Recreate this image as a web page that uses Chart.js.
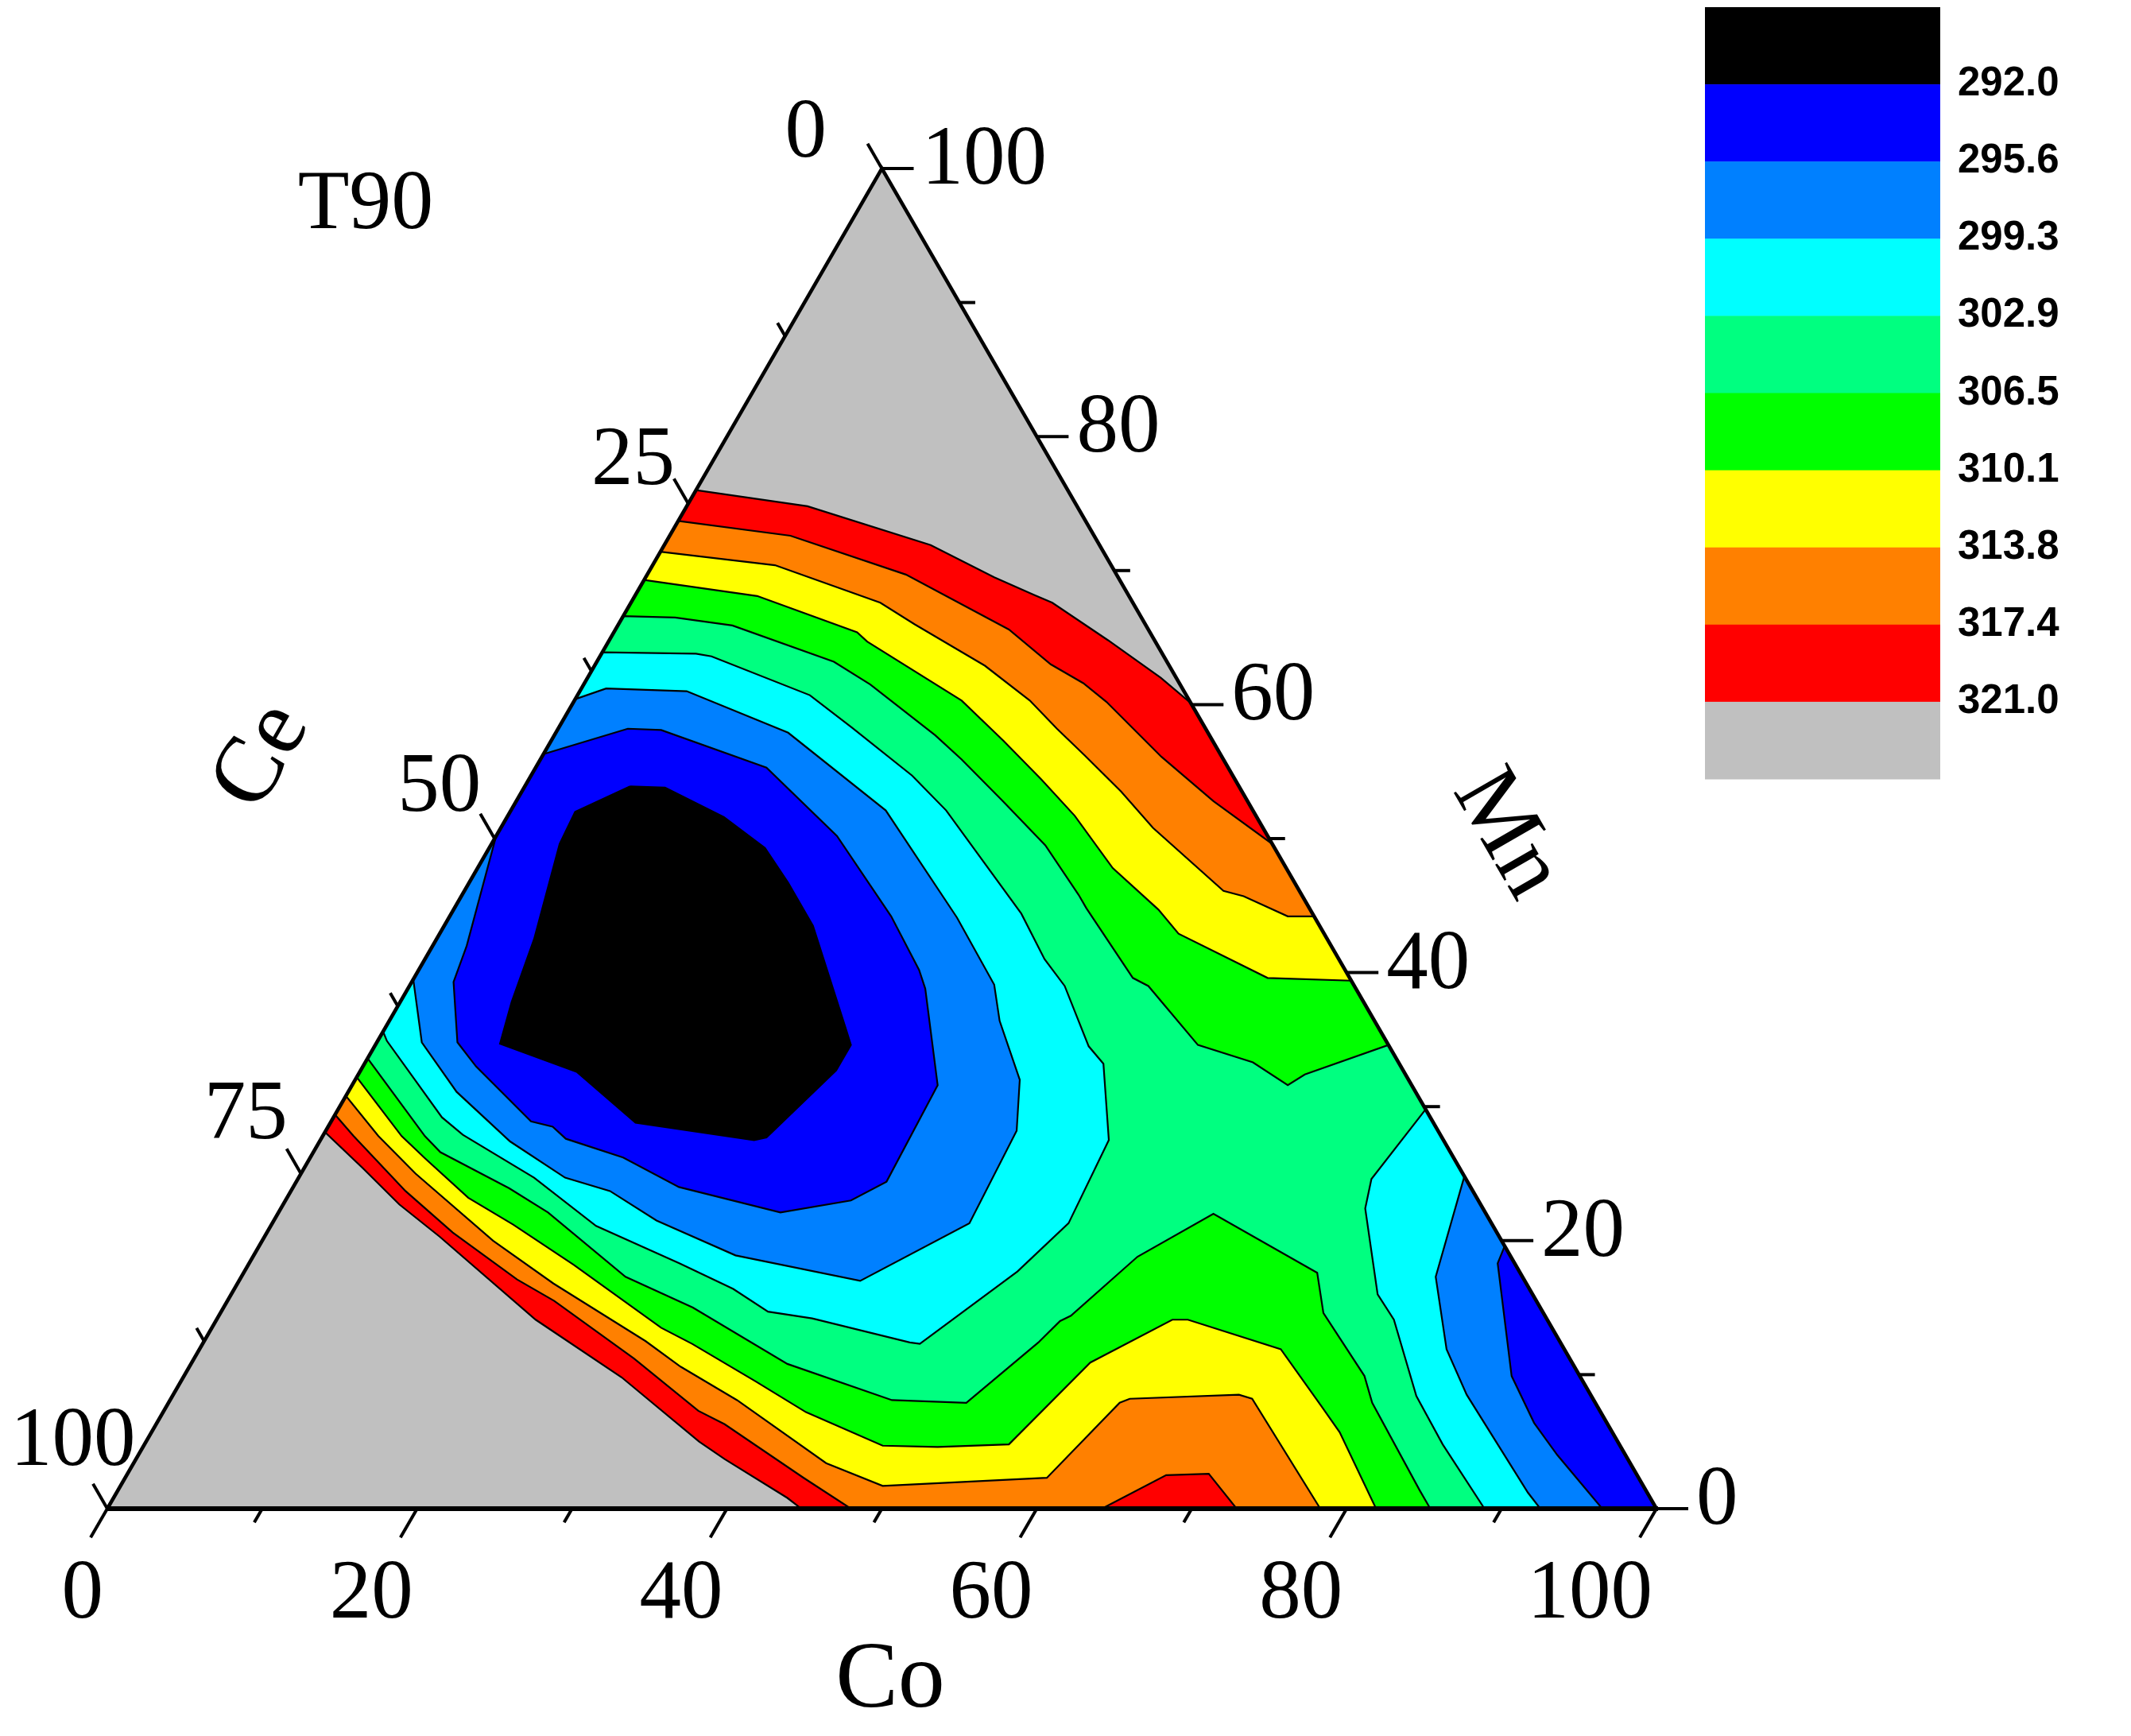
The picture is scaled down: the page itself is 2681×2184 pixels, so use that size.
<!DOCTYPE html>
<html>
<head>
<meta charset="utf-8">
<title>T90 ternary contour</title>
<script src="https://cdn.jsdelivr.net/npm/chart.js@4.4.1/dist/chart.umd.min.js"></script>
<style>
  html, body { margin: 0; padding: 0; background: #ffffff; }
  canvas { display: block; }
</style>
</head>
<body>
<canvas id="t90Chart" width="2681" height="2184"></canvas>
<script>
// colour scale of T90
const levels = [292.0, 295.6, 299.3, 302.9, 306.5, 310.1, 313.8, 317.4, 321.0];
const bandColors = ['#000000', '#0000ff', '#0080ff', '#00ffff', '#00ff80', '#00ff00', '#ffff00', '#ff8000', '#ff0000', '#c0c0c0'];

// axis ticks
const coTicks = [0, 20, 40, 60, 80, 100];
const mnTicks = [0, 20, 40, 60, 80, 100];
const ceTicks = [0, 25, 50, 75, 100];

// contour lines, every point is [Co, Mn] in %, Ce = 100 - Co - Mn
const c321Top = [[0, 76.0], [7.8, 74.8], [17.2, 71.9], [22.5, 69.5], [25.7, 68.2], [27.2, 67.6], [32.2, 64.8], [37.0, 62.0], [39.9, 60.1]];
const c321Low = [[0, 28.1], [3.8, 25.4], [7.5, 22.7], [11.3, 20.3], [20.6, 14.1], [28.3, 9.8], [35.7, 5.0], [38.0, 3.7], [43.5, 0.8], [44.8, 0]];

const c317Top = [[0, 73.7], [7.8, 72.6], [16.7, 69.7], [25.4, 65.6], [29.4, 63.0], [32.2, 61.6], [34.4, 60.2], [40.0, 56.1], [45.0, 52.8], [50.4, 49.6]];
const c317Low = [[0, 29.4], [2.0, 27.8], [7.4, 23.7], [12.0, 20.6], [17.9, 17.1], [21.1, 15.5], [28.4, 11.2], [34.5, 7.3], [36.7, 6.3], [43.8, 2.3], [48.0, 0]];
const c317Blob = [[64.2, 0], [67.1, 2.5], [69.8, 2.6], [72.9, 0]];

const c313Top = [[0, 71.4], [7.9, 70.4], [16.1, 67.6], [19.1, 66.0], [25.2, 62.9], [29.4, 60.3], [32.2, 58.2], [35.0, 56.2], [38.7, 53.5], [42.1, 50.8], [49.0, 46.1], [50.5, 45.7], [54.1, 44.2], [55.8, 44.2]];
const c313Low = [[0, 30.8], [3.6, 27.8], [7.4, 25.0], [14.9, 20.0], [20.4, 16.8], [28.5, 12.5], [31.7, 10.6], [36.6, 8.1], [44.7, 3.4], [49.2, 1.7], [59.5, 2.3], [61.4, 7.9], [61.9, 8.2], [68.8, 8.5], [69.8, 8.2], [78.3, 0]];

const c310Top = [[0, 69.3], [7.9, 68.1], [15.7, 65.4], [16.7, 64.7], [25.0, 60.3], [29.2, 57.3], [33.1, 54.4], [36.6, 51.7], [41.0, 47.8], [45.5, 44.7], [47.7, 42.9], [55.1, 39.6], [60.6, 39.4]];
const c310Low = [[0, 32.2], [5.1, 27.8], [7.5, 26.1], [11.7, 23.2], [15.6, 21.2], [21.0, 18.2], [29.0, 13.5], [31.6, 12.3], [37.1, 9.5], [41.5, 7.2], [47.7, 4.7], [51.3, 4.6], [55.8, 4.8], [58.0, 10.9], [61.7, 14.1], [62.7, 14.1], [69.8, 11.9], [74.6, 7.6], [76.7, 5.7], [81.9, 0]];

const c306Top = [[0, 66.6], [3.4, 66.5], [7.4, 65.9], [15.3, 63.2], [18.5, 61.5], [24.6, 57.7], [27.2, 55.9], [31.4, 52.8], [35.8, 49.5], [39.8, 45.8], [40.8, 44.8], [46.4, 39.6], [47.7, 39.0], [53.1, 34.6], [57.3, 33.3], [60.4, 31.6], [61.1, 32.4], [65.4, 34.6]];
const c306Low = [[0, 33.6], [6.6, 27.8], [8.2, 26.6], [14.0, 23.9], [17.4, 22.1], [24.8, 17.3], [30.3, 15.0], [38.5, 10.8], [46.6, 8.1], [51.5, 7.9], [53.9, 12.4], [54.5, 14.0], [55.0, 14.4], [57.1, 18.8], [60.4, 22.0], [69.3, 17.6], [71.2, 14.6], [76.2, 9.9], [77.7, 7.9], [84.0, 1.4], [85.4, 0]];

const c302Pocket = [[0, 63.9], [6.1, 63.8], [7.2, 63.6], [15.0, 60.7], [18.9, 58.3], [24.6, 54.7], [28.1, 52.1], [36.8, 44.4], [40.0, 41.0], [42.3, 39.0], [46.1, 34.5], [47.7, 33.2], [50.9, 27.5], [51.4, 21.3], [49.9, 17.7], [46.3, 12.3], [45.6, 12.4], [38.4, 14.2], [35.3, 14.7], [32.2, 16.4], [27.8, 18.3], [21.0, 21.1], [15.2, 24.7], [9.0, 27.9], [7.0, 29.2], [0.6, 34.9], [0, 35.6]];
const c302Corner = [[70.2, 29.8], [69.3, 24.6], [70.0, 22.4], [74.0, 16.0], [76.0, 14.1], [80.3, 8.4], [83.8, 4.8], [88.9, 0]];

const c299Pocket = [[0, 60.4], [1.6, 61.2], [6.9, 61.0], [15.0, 57.9], [24.2, 52.1], [32.8, 44.1], [37.7, 39.1], [39.4, 36.4], [42.9, 32.0], [44.6, 28.2], [45.0, 21.3], [40.1, 17.0], [31.1, 18.9], [24.7, 21.5], [20.6, 23.7], [17.2, 24.7], [12.3, 27.4], [7.0, 31.1], [2.9, 34.8], [0, 39.5]];
const c299Corner = [[75.2, 24.8], [77.1, 17.3], [80.5, 11.9], [83.5, 8.5], [91.1, 1.2], [92.5, 0]];

const c295Pocket = [[0, 56.3], [4.5, 58.2], [6.7, 58.1], [14.9, 55.3], [22.0, 50.2], [28.5, 44.2], [32.3, 40.2], [33.4, 38.8], [37.8, 31.6], [38.1, 24.4], [36.5, 23.0], [32.4, 22.1], [24.9, 24.0], [20.2, 26.2], [15.8, 27.6], [14.5, 28.5], [12.9, 28.9], [7.3, 33.0], [5.2, 34.8], [2.7, 39.3], [2.2, 42.0], [0, 50.2]];
const c295Corner = [[80.4, 19.6], [80.6, 18.3], [85.7, 9.9], [88.9, 6.4], [91.6, 4.0], [96.5, 0]];

const c292Core = [[6.8, 53.9], [9.1, 53.8], [14.0, 51.6], [17.8, 49.3], [20.6, 46.7], [23.8, 43.5], [29.7, 35.9], [30.7, 34.6], [30.7, 32.7], [28.7, 27.7], [28.0, 27.5], [19.7, 28.8], [14.0, 32.6], [8.0, 34.7], [7.2, 37.8], [6.3, 42.5], [4.4, 49.6], [4.2, 52.0]];

const SQ3 = Math.sqrt(3) / 2;
const BL = [0, 0], BR = [100, 0], TOP = [0, 100];

// ternary [Co, Mn] -> cartesian data point
function toXY(p) {
    return { x: p[0] + p[1] / 2, y: p[1] * SQ3 };
}

function rev(a) {
    return a.slice().reverse();
}

// regions "T90 below level", painted from the highest level down
const regions = [
    { color: bandColors[9], rings: [[BL, BR, TOP]] },
    { color: bandColors[8], rings: [c321Top.concat([BR], rev(c321Low))] },
    { color: bandColors[7], rings: [c317Top.concat([BR], rev(c317Blob), rev(c317Low))] },
    { color: bandColors[6], rings: [c313Top.concat([BR], rev(c313Low))] },
    { color: bandColors[5], rings: [c310Top.concat([BR], rev(c310Low))] },
    { color: bandColors[4], rings: [c306Top.concat([BR], rev(c306Low))] },
    { color: bandColors[3], rings: [c302Pocket, c302Corner.concat([BR])] },
    { color: bandColors[2], rings: [c299Pocket, c299Corner.concat([BR])] },
    { color: bandColors[1], rings: [c295Pocket, c295Corner.concat([BR])] },
    { color: bandColors[0], rings: [c292Core] }
];

const datasets = [];
regions.forEach(function(reg, k) {
    reg.rings.forEach(function(ring) {
        datasets.push({
            data: ring.concat([ring[0]]).map(toXY),
            showLine: true,
            fill: 'shape',
            backgroundColor: reg.color,
            borderColor: '#000000',
            borderWidth: k === 0 ? 0 : 2.2,
            pointRadius: 0,
            order: regions.length - k
        });
    });
});

const SERIF = '"Liberation Serif", "Times New Roman", serif';

// triangle frame, ticks, labels, titles and colour scale
const ternaryAxes = {
    id: 'ternaryAxes',
    afterDraw: function(chart) {
        const ctx = chart.ctx;
        const sx = chart.scales.x, sy = chart.scales.y;
        function pt(co, mn) {
            const q = toXY([co, mn]);
            return [sx.getPixelForValue(q.x), sy.getPixelForValue(q.y)];
        }
        const a = pt(0, 0), b = pt(100, 0), c = pt(0, 100);

        ctx.save();
        ctx.strokeStyle = '#000';
        ctx.lineCap = 'butt';

        // frame
        ctx.lineWidth = 4.5;
        ctx.beginPath();
        ctx.moveTo(a[0], a[1]); ctx.lineTo(c[0], c[1]); ctx.lineTo(b[0], b[1]);
        ctx.stroke();
        ctx.lineWidth = 6;
        ctx.beginPath();
        ctx.moveTo(a[0] - 2, a[1]); ctx.lineTo(b[0] + 2, b[1]);
        ctx.stroke();

        function tick(p, dx, dy, len) {
            ctx.beginPath();
            ctx.moveTo(p[0], p[1]);
            ctx.lineTo(p[0] + dx * len, p[1] + dy * len);
            ctx.stroke();
        }
        ctx.lineWidth = 4;
        // Co (bottom), every 10
        for (let v = 0; v <= 100; v += 10) {
            tick(pt(v, 0), -0.5, SQ3, v % 20 === 0 ? 42 : 20);
        }
        // Mn (right), every 10
        for (let v = 0; v <= 100; v += 10) {
            tick(pt(100 - v, v), 1, 0, v % 20 === 0 ? 40 : 20);
        }
        // Ce (left), every 12.5
        for (let v = 0; v <= 100; v += 12.5) {
            tick(pt(0, 100 - v), -0.5, -SQ3, v % 25 === 0 ? 36 : 19);
        }

        ctx.fillStyle = '#000';
        ctx.font = '105px ' + SERIF;
        ctx.textBaseline = 'alphabetic';
        ctx.textAlign = 'right';
        coTicks.forEach(function(v) {
            const p = pt(v, 0);
            ctx.fillText(String(v), p[0] - 5, p[1] + 137);
        });
        ctx.textAlign = 'left';
        mnTicks.forEach(function(v) {
            const p = pt(100 - v, v);
            ctx.fillText(String(v), p[0] + 50, p[1] + 19);
        });
        ceTicks.forEach(function(v) {
            const p = pt(0, 100 - v);
            ctx.fillText(String(v), p[0] - 122, p[1] - 15 - 0.4 * v);
        });

        // titles
        ctx.textAlign = 'center';
        ctx.font = '106px ' + SERIF;
        ctx.fillText('T90', 460, 287);
        ctx.font = '118px ' + SERIF;
        ctx.fillText('Co', 1120, 2147);
        ctx.textBaseline = 'middle';
        ctx.save();
        ctx.translate(330, 952);
        ctx.rotate(-Math.PI / 3);
        ctx.fillText('Ce', 0, 0);
        ctx.restore();
        ctx.save();
        ctx.translate(1895, 1050);
        ctx.rotate(Math.PI / 3);
        ctx.fillText('Mn', 0, 0);
        ctx.restore();

        // colour scale
        const bx = 2145, bw = 296, by = 9, bh = 97.1;
        bandColors.forEach(function(col, i) {
            ctx.fillStyle = col;
            ctx.fillRect(bx, by + i * bh, bw, bh + 0.5);
        });
        ctx.fillStyle = '#000';
        ctx.font = 'bold 51px "Liberation Sans", Arial, sans-serif';
        ctx.textAlign = 'left';
        ctx.textBaseline = 'middle';
        levels.forEach(function(lv, i) {
            ctx.fillText(lv.toFixed(1), 2463, by + (i + 1) * bh);
        });
        ctx.restore();
    }
};

const chart = new Chart(document.getElementById('t90Chart').getContext('2d'), {
    type: 'scatter',
    data: { datasets: datasets },
    options: {
        responsive: false,
        animation: false,
        devicePixelRatio: 1,
        events: [],
        layout: { padding: { left: 135, right: 597, top: 212, bottom: 286 } },
        scales: {
            x: { type: 'linear', min: 0, max: 100, display: false },
            y: { type: 'linear', min: 0, max: 100 * SQ3, display: false }
        },
        plugins: {
            legend: { display: false },
            tooltip: { enabled: false }
        }
    },
    plugins: [ternaryAxes]
});
</script>
</body>
</html>
